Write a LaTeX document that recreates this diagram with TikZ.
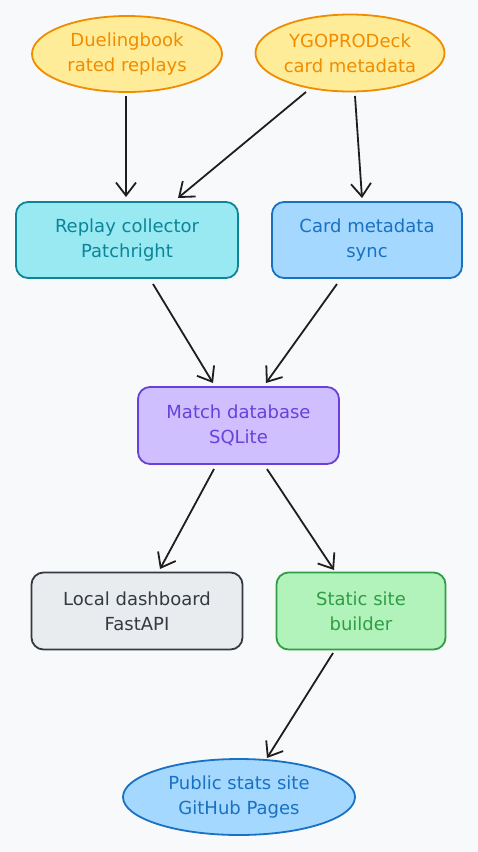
\documentclass[tikz,border=0pt]{standalone}
\usepackage{fontspec}
\setmainfont{DejaVu Sans}
\usetikzlibrary{arrows.meta,shapes.geometric}
\definecolor{bg}{HTML}{F8F9FA}
\definecolor{yfill}{HTML}{FFEC99}\definecolor{ydraw}{HTML}{F08C00}
\definecolor{cfill}{HTML}{99E9F2}\definecolor{cdraw}{HTML}{0C8599}
\definecolor{bfill}{HTML}{A5D8FF}\definecolor{bdraw}{HTML}{1971C2}
\definecolor{pfill}{HTML}{D0BFFF}\definecolor{pdraw}{HTML}{6741D9}
\definecolor{gfill}{HTML}{E9ECEF}\definecolor{gdraw}{HTML}{343A40}
\definecolor{grfill}{HTML}{B2F2BB}\definecolor{grdraw}{HTML}{2F9E44}
\definecolor{arr}{HTML}{1E1E1E}
\tikzset{
  lbl/.style={align=center,font=\fontsize{18}{25}\selectfont,inner sep=0pt},
  oval/.style={lbl,ellipse,line width=1.8pt},
  boxn/.style={lbl,rectangle,rounded corners=12pt,line width=1.8pt},
  flow/.style={draw=arr,line width=1.8pt,-{Straight Barb[length=13pt,width=20pt,line width=1.8pt]}},
}
\begin{document}
\begin{tikzpicture}[x=1pt,y=-1pt]
\fill[bg] (0,0) rectangle (478,852);
\useasboundingbox (0,0) rectangle (478,852);
\node[oval,draw=ydraw,fill=yfill,text=ydraw,minimum width=190pt,minimum height=76pt] (duel) at (127,54) {Duelingbook\\rated replays};
\node[oval,draw=ydraw,fill=yfill,text=ydraw,minimum width=189pt,minimum height=77pt] (ygo) at (350,53) {YGOPRODeck\\card metadata};
\node[boxn,draw=cdraw,fill=cfill,text=cdraw,minimum width=222pt,minimum height=76pt] (rep) at (127,240) {Replay collector\\Patchright};
\node[boxn,draw=bdraw,fill=bfill,text=bdraw,minimum width=190pt,minimum height=76pt] (card) at (367,240) {Card metadata\\sync};
\node[boxn,draw=pdraw,fill=pfill,text=pdraw,minimum width=201pt,minimum height=77pt] (db) at (238.5,425.5) {Match database\\SQLite};
\node[boxn,draw=gdraw,fill=gfill,text=gdraw,minimum width=211pt,minimum height=77pt] (local) at (137,611) {Local dashboard\\FastAPI};
\node[boxn,draw=grdraw,fill=grfill,text=grdraw,minimum width=169pt,minimum height=77pt] (static) at (361,611) {Static site\\builder};
\node[oval,draw=bdraw,fill=bfill,text=bdraw,minimum width=232pt,minimum height=76pt] (pub) at (239,797) {Public stats site\\GitHub Pages};
\coordinate (a1s) at (126,96); \coordinate (a1e) at (126,197);
\coordinate (a2s) at (306,92); \coordinate (a2e) at (178,198);
\coordinate (a3s) at (355,96); \coordinate (a3e) at (362,198);
\coordinate (a4s) at (153,284); \coordinate (a4e) at (213,383);
\coordinate (a5s) at (337,284); \coordinate (a5e) at (266,383);
\coordinate (a6s) at (214,469); \coordinate (a6e) at (160,569);
\coordinate (a7s) at (267,469); \coordinate (a7e) at (334,570);
\coordinate (a8s) at (333,653); \coordinate (a8e) at (267,758);
\draw[flow] (a1s) -- (a1e);
\draw[flow] (a2s) -- (a2e);
\draw[flow] (a3s) -- (a3e);
\draw[flow] (a4s) -- (a4e);
\draw[flow] (a5s) -- (a5e);
\draw[flow] (a6s) -- (a6e);
\draw[flow] (a7s) -- (a7e);
\draw[flow] (a8s) -- (a8e);
\end{tikzpicture}
\end{document}
